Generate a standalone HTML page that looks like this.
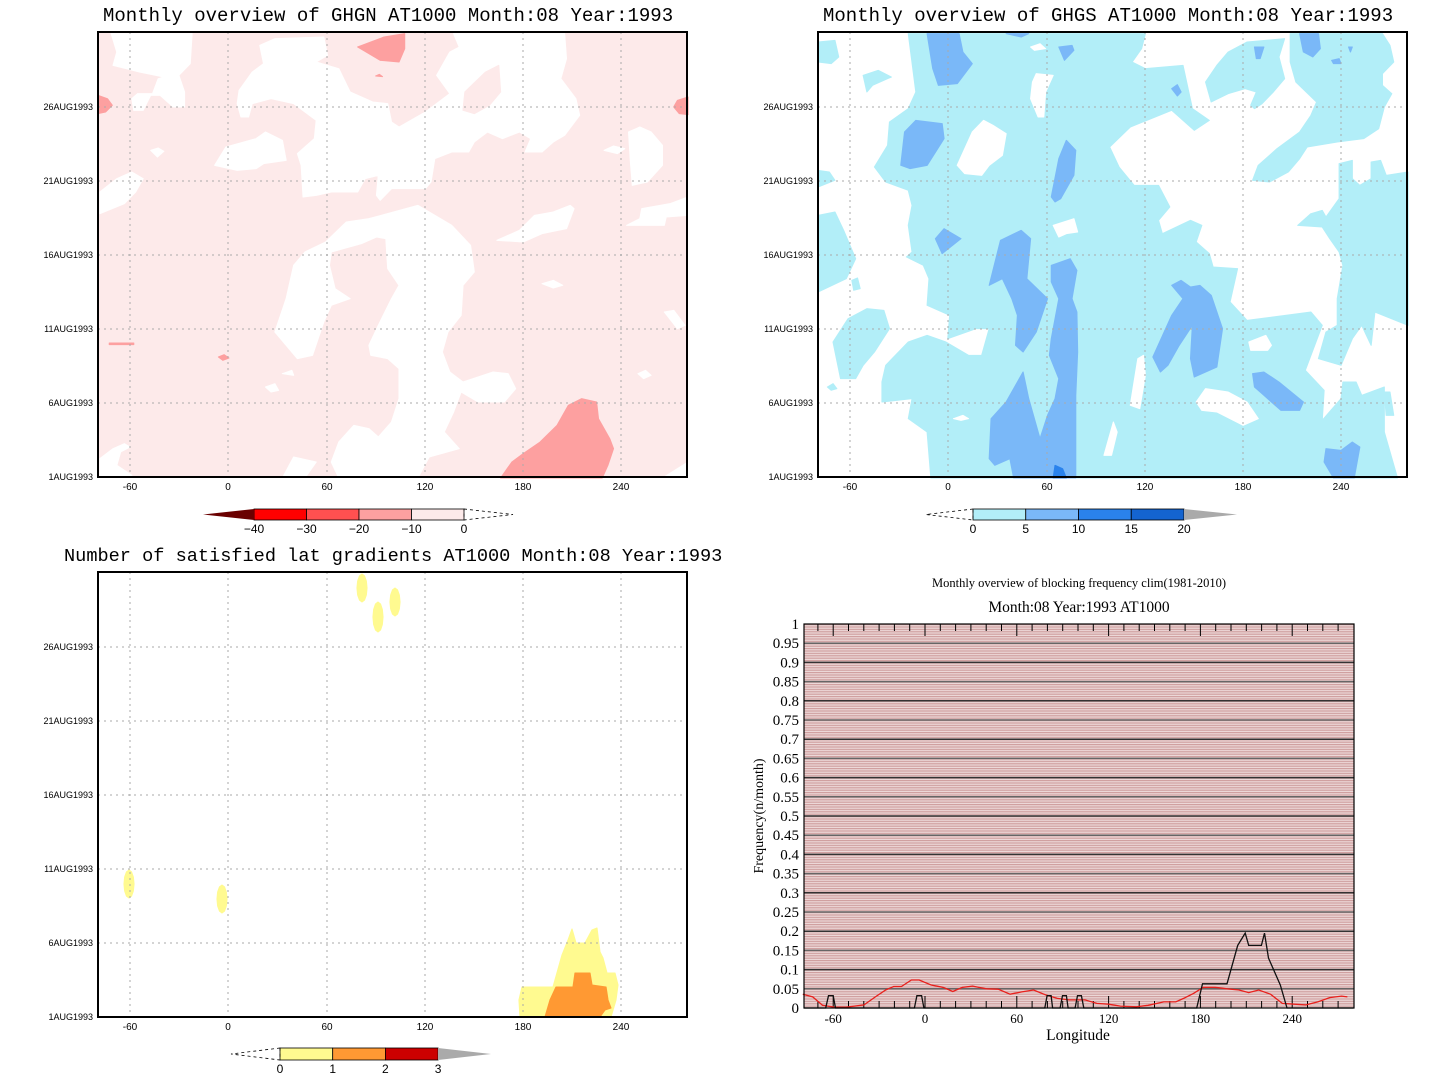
<!DOCTYPE html>
<html><head><meta charset="utf-8"><style>
html,body{margin:0;padding:0;background:#fff;width:1440px;height:1091px;overflow:hidden}
svg{display:block}
text{font-family:"Liberation Sans",sans-serif}
.ttl{font-family:"Liberation Mono","DejaVu Sans Mono",monospace;font-size:19px;fill:#000}
.yl{font-size:9px;text-anchor:end}
.xl{font-size:10px;text-anchor:middle}
.sf{font-family:"Liberation Serif",serif}
</style></head><body>
<svg id="root" width="1440" height="1091" viewBox="0 0 1440 1091">
<defs>
<pattern id="stripes" width="10" height="2.4" patternUnits="userSpaceOnUse">
<rect width="10" height="2.4" fill="#edd9d9"/><rect width="10" height="1.2" fill="#cf9f9f"/>
</pattern>
</defs>
<text class="ttl" x="103" y="21">Monthly overview of GHGN AT1000 Month:08 Year:1993</text>
<text class="ttl" x="823" y="21">Monthly overview of GHGS AT1000 Month:08 Year:1993</text>
<text class="ttl" x="64" y="561" style="font-size:18.6px">Number of satisfied lat gradients AT1000 Month:08 Year:1993</text>
<g id="mapTL"></g>
<g id="mapTR"></g>
<g id="mapBL"></g>
<g id="cbars"></g>
<g id="chart"></g>
</svg>
<script>
// ---- blocking frequency line chart data ----
const tickLon = [-60, 0, 60, 120, 180, 240];
const freqTicks = [0,0.05,0.1,0.15,0.2,0.25,0.3,0.35,0.4,0.45,0.5,0.55,0.6,0.65,0.7,0.75,0.8,0.85,0.9,0.95,1];
const climLon = [-79.9,-73.4,-67,-59.2,-51.5,-39.9,-32.1,-25.7,-20.5,-15.4,-8.9,-3.8,4,11.7,18.2,24.6,31.1,40.1,47.8,55.6,63.3,71,78.8,86.5,94.2,104.6,112.3,120,127.8,138.1,145.8,156.1,163.9,169,175.5,181.9,189.7,197.4,205.2,211.6,218.1,225.8,233.5,241.3,249,256.7,264.5,272.2,276.1];
const climVal = [0.036,0.029,0.007,0.002,0.002,0.008,0.030,0.047,0.056,0.056,0.073,0.073,0.060,0.054,0.043,0.054,0.057,0.050,0.049,0.036,0.042,0.047,0.034,0.025,0.021,0.021,0.012,0.010,0.005,0.003,0.007,0.016,0.016,0.025,0.038,0.054,0.054,0.050,0.047,0.040,0.047,0.036,0.012,0.010,0.008,0.016,0.027,0.031,0.029];
const monLon = [-79,-64.9,-63.1,-60,-58.5,-6.9,-5.3,-2.2,-0.7,78.3,79.8,82.4,83.4,88.3,89.9,92.4,93.5,98.1,99.7,102.2,103.8,177.6,181.4,197.4,204.4,209.3,211.6,219.9,221.9,224.5,232.2,236.6,280];
const monVal = [0,0,0.032,0.032,0,0,0.032,0.032,0,0,0.032,0.032,0,0,0.032,0.032,0,0,0.032,0.032,0,0,0.063,0.063,0.163,0.195,0.163,0.163,0.195,0.13,0.06,0,0];

const NS='http://www.w3.org/2000/svg';
function mk(tag, attrs, parent){const e=document.createElementNS(NS,tag);for(const k in attrs)e.setAttribute(k,attrs[k]);parent.appendChild(e);return e;}

// ---- contour maps (shapes) ----
const S=0.37628, SY=0.33333;
function drawPolys(g, list, fill){
  list.forEach(p=>{const e=mk('polygon',{points:p,fill:fill,'stroke':fill,'stroke-width':3,'stroke-linejoin':'round'},g);
    
    });
}
function mapFrame(id, ox, oy, bg, layers, showX){
  const root=document.getElementById(id);
  mk('rect',{x:ox,y:oy,width:589,height:445,fill:bg},root);
  const g=mk('g',{transform:`translate(${ox},${oy}) scale(${S},${SY})`},root);
  layers.forEach(l=>drawPolys(g,l[0],l[1]));
  const gx=[130,228,327,425,523,621], lx=['-60','0','60','120','180','240'];
  const gy=[107,181,255,329,403], ly=['26AUG1993','21AUG1993','16AUG1993','11AUG1993','6AUG1993'];
  gx.forEach((x,i)=>{const X=ox-98+x;mk('line',{x1:X,y1:oy,x2:X,y2:oy+445,stroke:'#aaa','stroke-width':1,'stroke-dasharray':'2,4'},root);
    const t=mk('text',{class:'xl',x:X,y:oy+458},root);t.textContent=lx[i];
    
    });
  gy.forEach((y,i)=>{const Y=oy-32+y;mk('line',{x1:ox,y1:Y,x2:ox+589,y2:Y,stroke:'#aaa','stroke-width':1,'stroke-dasharray':'2,4'},root);
    const t=mk('text',{class:'yl',x:ox-5,y:Y+3},root);t.textContent=ly[i];
    
    });
  const t=mk('text',{class:'yl',x:ox-5,y:oy+448},root);t.textContent='1AUG1993';
  
  
  mk('rect',{x:ox,y:oy,width:589,height:445,fill:'none',stroke:'#000','stroke-width':2},root);
}
// GHGN
const tlWhite=[
"35,5 250,5 245,95 215,130 230,180 230,225 200,225 165,190 140,190 120,235 95,235 90,200 105,185 145,185 160,140 175,135 110,120 40,100 50,60",
"430,40 470,20 600,15 610,70 580,90 640,110 670,180 730,210 770,215 780,270 800,285 870,240 935,185 900,130 935,60 960,45 945,5 1240,5 1245,80 1230,140 1270,200 1280,250 1240,310 1210,330 1180,360 1135,360 1150,320 1120,300 1075,320 1035,300 1000,330 985,360 940,360 895,380 885,450 870,470 780,470 750,505 740,490 745,430 710,440 690,480 620,480 580,490 545,495 540,400 530,365 575,320 580,265 520,215 460,200 410,215 400,255 380,255 370,215 375,175 410,120 440,95",
"310,400 340,345 420,320 445,300 490,325 500,385 440,395 420,410 370,415",
"5,480 50,440 90,420 120,440 100,480 70,515 5,545",
"140,355 160,348 175,358 158,375",
"1410,300 1440,285 1470,300 1500,340 1500,400 1460,450 1420,460 1415,390",
"1345,355 1370,342 1400,350 1380,365",
"1060,625 1120,595 1160,550 1210,540 1255,520 1265,530 1245,590 1180,605 1130,630",
"1405,580 1440,560 1445,530 1520,515 1568,495 1568,550 1510,555 1505,580 1450,580",
"470,900 500,800 520,700 550,660 605,630 660,570 720,560 850,520 940,580 990,640 1000,720 970,760 965,850 930,900 915,960 935,1020 970,1050 1050,1020 1090,1025 1110,1070 1080,1110 1010,1110 965,1080 945,1140 920,1200 960,1250 880,1275 850,1338 640,1338 620,1290 640,1230 680,1180 720,1190 745,1215 780,1170 800,1100 800,1010 770,980 725,970 720,940 745,880 780,800 800,760 770,710 765,620 740,615 700,635 620,660 615,700 630,770 670,800 620,820 600,870 570,970 530,980 500,940",
"40,1250 70,1235 85,1245 60,1260 50,1300 90,1330 50,1338 5,1338 5,1280",
"490,1338 520,1275 580,1290 550,1338",
"1180,755 1210,745 1235,760 1210,768","1505,840 1530,835 1560,880 1540,890",
"1435,1025 1455,1015 1470,1030 1450,1040","445,1065 470,1055 480,1075 460,1080",
"490,1025 515,1015 520,1030","1500,1338 1568,1290 1568,1338"];
const tlPinkIn=["975,180 1030,120 1065,100 1070,180 1040,220 1000,245 970,235"];
const tlMed=["690,45 760,15 815,5 815,50 800,90 750,85","0,190 25,200 38,220 20,240 0,245",
"1568,195 1540,205 1530,225 1545,245 1568,248",
"1070,1338 1100,1290 1130,1265 1175,1230 1220,1180 1250,1120 1285,1100 1325,1110 1330,1160 1360,1220 1370,1250 1355,1300 1340,1338",
"320,975 335,968 348,978 332,985","30,933 95,933 95,938 30,938","738,132 748,127 756,134"];
mapFrame('mapTL',98,32,'#fdeaea',[[tlWhite,'#ffffff'],[tlPinkIn,'#fdeaea'],[tlMed,'#fda0a0']]);

// GHGS
const trCyan=[
"240,5 870,5 860,50 835,90 870,110 970,100 995,230 1040,265 1000,295 940,235 830,285 775,345 800,405 840,460 905,460 935,525 905,565 915,605 990,565 1020,580 1005,630 1040,665 1050,705 1115,710 1095,810 1140,865 1310,840 1340,880 1295,1015 1345,1075 1340,1165 1390,1100 1395,1050 1430,1050 1445,1090 1505,1065 1505,1200 1540,1338 300,1338 290,1200 240,1160 250,1100 170,1110 170,1050 180,1000 240,930 290,910 340,930 400,970 435,970 455,890 420,890 345,920 350,850 290,820 295,740 280,700 235,675 250,660 240,580 250,520 240,475 180,450 150,405 185,340 190,270 240,230 260,180",
"1255,5 1500,5 1520,40 1530,90 1500,125 1500,160 1525,185 1505,225 1490,290 1450,320 1380,330 1300,345 1280,380 1250,420 1200,450 1155,445 1170,400 1220,350 1280,300 1310,250 1325,210 1270,150 1255,90",
"1030,150 1060,100 1090,60 1140,30 1240,20 1225,75 1240,140 1210,180 1180,215 1160,230 1150,220 1165,180 1135,170 1090,185 1045,210",
"1275,580 1310,545 1340,535 1350,555 1385,500 1385,395 1420,385 1420,440 1440,460 1470,440 1470,390 1495,385 1510,430 1568,420 1568,880 1480,840 1470,940 1445,880 1420,920 1390,1000 1330,980 1350,900 1380,880 1380,800 1395,700 1385,660 1360,620 1340,585",
"0,30 45,25 55,75 35,95 0,90","120,130 160,115 195,135 145,160 130,180",
"40,930 80,860 130,830 175,835 190,890 150,960 120,1000 100,1040 60,1040","25,1065 40,1055 50,1070 35,1075",
"0,550 45,540 70,600 100,680 75,740 0,780","0,415 30,420 45,445 0,465","90,745 105,738 112,770 95,775",
"1505,1080 1520,1080 1530,1150 1510,1150"];
const trWhite=["370,400 410,300 440,265 465,280 500,305 490,370 455,400 435,430 390,425",
"570,150 580,125 625,130 605,180 600,255 585,255 565,200","565,45 590,35 605,50 575,55",
"625,580 680,560 690,600 660,605 640,615","1145,930 1190,910 1205,940 1195,955 1150,955",
"830,1120 850,980 865,970 870,1030 855,1130","760,1270 785,1170 795,1200 780,1270",
"1005,1110 1030,1070 1090,1080 1140,1110 1170,1160 1130,1180 1060,1140 1020,1135",
"360,1160 385,1150 400,1160 380,1165"];
const trBlue=["290,5 375,5 385,60 410,95 370,155 320,160 305,110","230,300 260,265 330,275 335,320 290,400 245,410 220,400",
"620,495 640,380 660,325 685,355 680,430 645,500 630,510","312,620 335,590 380,620 330,665",
"455,760 485,625 540,595 565,620 555,740 610,800 580,900 545,960 525,940 530,850 515,800 490,740",
"620,700 670,680 688,715 675,800 688,840 690,960 685,1090 685,1338 520,1338 510,1280 470,1300 455,1280 460,1160 500,1110 545,1020 560,1100 590,1220 610,1150 630,1100 640,1040 615,970 620,920 640,800 620,750",
"890,975 940,850 970,800 940,760 965,745 990,765 1015,760 1045,790 1075,890 1060,1005 1000,1035 990,980 995,880 960,940 930,1000 910,1020",
"1155,1025 1185,1020 1225,1050 1290,1110 1280,1135 1230,1135 1185,1090 1160,1065",
"1350,1250 1390,1255 1420,1230 1440,1245 1425,1338 1370,1338 1345,1290","1280,5 1330,5 1335,50 1315,75 1290,60",
"1160,45 1185,45 1175,80 1165,80","640,45 675,40 680,55 655,85","940,170 955,158 965,180 955,192","500,5 560,5 540,15",
"1365,85 1385,80 1390,95 1370,95","1410,45 1420,45 1415,60"];
const trDark=["625,1338 630,1300 650,1310 660,1338"];
mapFrame('mapTR',818,32,'#ffffff',[[trCyan,'#b2eef8'],[trWhite,'#ffffff'],[trBlue,'#7ab8f8'],[trDark,'#2a82ec']]);

// Gradients map (real-pixel shapes converted to zoom space)
function toZ(pts){return pts.map(p=>((p[0]-98)/S).toFixed(1)+','+((p[1]-572)/SY).toFixed(1)).join(' ');}
function ell(cx,cy,rx,ry){const a=[];for(let i=0;i<12;i++){const t=i/12*2*Math.PI;a.push([cx+rx*Math.sin(t),cy-ry*Math.cos(t)]);}return toZ(a);}
const blYellow=[toZ([[520,1017],[519,1000],[522,987],[553,987],[562,955],[568,940],[572,929],[576,943],[585,943],[592,930],[597,928],[600,952],[603,958],[607,973],[615,973],[618,985],[616,1000],[611,1017]]),
ell(362,588,5,14),ell(378,617,5,15),ell(395,602,5,14),ell(129,884,5,14),ell(222,899,5,14)];
const blOrange=[toZ([[545,1017],[550,1000],[556,987],[573,987],[575,973],[590,973],[592,985],[606,987],[608,1000],[611,1008],[605,1010],[600,1017]])];
mapFrame('mapBL',98,572,'#ffffff',[[blYellow,'#fffa90'],[blOrange,'#ff9933']]);

// ---- colorbars ----
const cb=document.getElementById('cbars');
(function(){const cols=['#ff0000','#ff5050','#fda0a0','#fdeaea'];const x0=254,w=52.5;
 cols.forEach((c,i)=>{const r=mk('rect',{x:x0+i*w,y:509,width:w,height:11,fill:c,stroke:'#000','stroke-width':0.8},cb);
   
   });
 mk('polygon',{points:`${x0},509 203,514.5 ${x0},520`,fill:'#6a0000'},cb);
 mk('polygon',{points:`464,509 513,514.5 464,520`,fill:'none',stroke:'#000','stroke-width':0.8,'stroke-dasharray':'3,3'},cb);
 ['−40','−30','−20','−10','0'].forEach((l,i)=>{const t=mk('text',{x:x0+i*w,y:533,'text-anchor':'middle','font-size':'12'},cb);t.textContent=l;
   
   });
})();
(function(){const cols=['#b2eef8','#7ab8f8','#2a82ec','#1464d0'];const x0=973,w=52.75;
 cols.forEach((c,i)=>{const r=mk('rect',{x:x0+i*w,y:509,width:w,height:11,fill:c,stroke:'#000','stroke-width':0.8},cb);
   
   });
 mk('polygon',{points:`${x0},509 926,514.5 ${x0},520`,fill:'none',stroke:'#000','stroke-width':0.8,'stroke-dasharray':'3,3'},cb);
 mk('polygon',{points:`1184,509 1237,514.5 1184,520`,fill:'#aaa'},cb);
 ['0','5','10','15','20'].forEach((l,i)=>{const t=mk('text',{x:x0+i*w,y:533,'text-anchor':'middle','font-size':'12'},cb);t.textContent=l;
   
   });
})();
(function(){const cols=['#fffa90','#ff9933','#cc0000'];const x0=280,w=52.7;
 cols.forEach((c,i)=>{const r=mk('rect',{x:x0+i*w,y:1048,width:w,height:12,fill:c,stroke:'#000','stroke-width':0.8},cb);
   
   });
 mk('polygon',{points:`${x0},1048 231,1054 ${x0},1060`,fill:'none',stroke:'#000','stroke-width':0.8,'stroke-dasharray':'3,3'},cb);
 mk('polygon',{points:`438,1048 491,1054 438,1060`,fill:'#aaa'},cb);
 ['0','1','2','3'].forEach((l,i)=>{const t=mk('text',{x:x0+i*w,y:1073,'text-anchor':'middle','font-size':'12'},cb);t.textContent=l;
   
   });
})();

// ---- line chart ----
const ch=document.getElementById('chart');
const L=804,R=1354,T=624,B=1008;
const xs=lon=>925+lon*1.53;
const ys=v=>B-v*(B-T);
mk('rect',{x:L,y:T,width:R-L,height:B-T,fill:'url(#stripes)'},ch);
freqTicks.forEach((v,i)=>{
  if(i>0&&i<freqTicks.length-1){const ln=mk('line',{x1:L,x2:R,y1:ys(v),y2:ys(v),stroke:i%2?'#666':'#333','stroke-width':1.5},ch);
    
    }
  const t=mk('text',{class:'sf',x:799,y:ys(v)+5,'text-anchor':'end','font-size':'15'},ch);t.textContent=String(v);
  
  
});
for(let lon=-70;lon<=270;lon+=10){
  const major=tickLon.includes(lon);const h=major?12:7;
  mk('line',{x1:xs(lon),x2:xs(lon),y1:B,y2:B-h,stroke:'#000','stroke-width':1},ch);
  mk('line',{x1:xs(lon),x2:xs(lon),y1:T,y2:T+h,stroke:'#000','stroke-width':1},ch);
}
tickLon.forEach(l=>{const t=mk('text',{class:'sf',x:xs(l),y:1023,'text-anchor':'middle','font-size':'13'},ch);t.textContent=String(l);
  
  });
function pathOf(lx,vy){return lx.map((l,i)=>(i?'L':'M')+xs(l).toFixed(1)+','+ys(vy[i]).toFixed(1)).join('');}
const clim=mk('path',{d:pathOf(climLon,climVal),fill:'none',stroke:'#e8201c','stroke-width':1.3},ch);


const mon=mk('path',{d:pathOf(monLon,monVal),fill:'none',stroke:'#111','stroke-width':1.3},ch);


mk('rect',{x:L,y:T,width:R-L,height:B-T,fill:'none',stroke:'#000','stroke-width':1.2},ch);
const tt=[['Monthly overview of blocking frequency clim(1981-2010)',1079,587,12.5,'chart-title'],['Month:08 Year:1993  AT1000',1079,612,15.5,'chart-subtitle'],['Longitude',1078,1040,15.5,'x-axis-title']];
tt.forEach(a=>{const t=mk('text',{class:'sf',x:a[1],y:a[2],'text-anchor':'middle','font-size':a[3]},ch);t.textContent=a[0];
  
  });
const yt=mk('text',{class:'sf',x:0,y:0,'text-anchor':'middle','font-size':'14',transform:'translate(763,816) rotate(-90)'},ch);
yt.textContent='Frequency(n/month)';


</script>
</body></html>
